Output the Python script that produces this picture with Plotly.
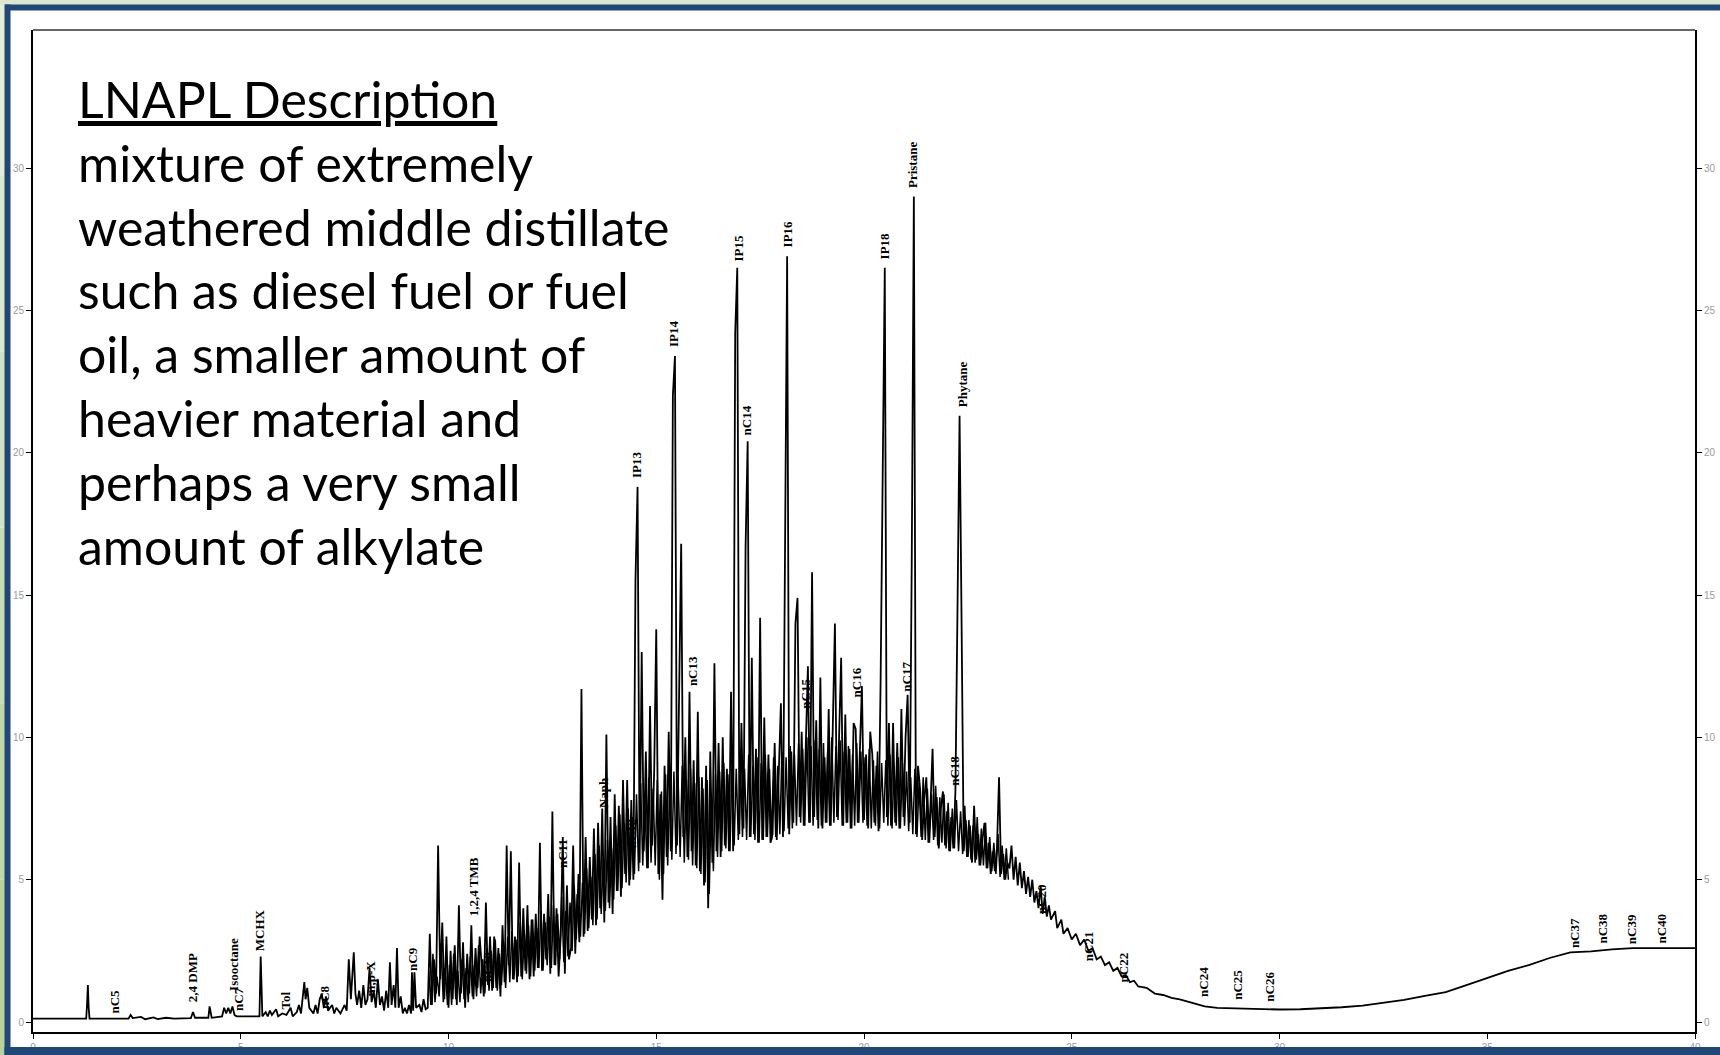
import plotly.graph_objects as go

# ---------------- data ----------------
# early part: retention time (min) and detector response
rt_early = [0.00, 1.28, 1.30, 1.32, 1.34, 1.36, 2.30, 2.35, 2.40, 2.60, 2.70, 2.90, 3.00, 3.20, 3.40,
            3.80, 3.85, 3.90, 4.22, 4.25, 4.30, 4.55, 4.60, 4.65, 4.70, 4.75, 4.80, 4.85, 4.90,
            5.30, 5.45, 5.48, 5.52, 5.60, 5.65, 5.70, 5.75, 5.85, 5.90, 6.00, 6.10, 6.20, 6.25,
            6.35, 6.40, 6.45, 6.50, 6.53, 6.56, 6.60, 6.65, 6.75, 6.80, 6.85, 6.90, 6.95, 7.00,
            7.05, 7.10, 7.20, 7.25, 7.30, 7.40, 7.50, 7.55, 7.60, 7.65, 7.72, 7.76, 7.80, 7.85,
            7.90, 7.95, 8.00, 8.05, 8.10, 8.15, 8.20, 8.25, 8.30, 8.35, 8.40, 8.45, 8.50, 8.55,
            8.59, 8.63, 8.68, 8.72, 8.76, 8.80, 8.85, 8.90, 8.95, 9.00, 9.05, 9.10, 9.12, 9.15,
            9.18, 9.22, 9.30, 9.35, 9.40, 9.45]
sig_early = [0.12, 0.12, 0.6, 1.3, 0.5, 0.12, 0.12, 0.25, 0.14, 0.18, 0.10, 0.16, 0.10, 0.15, 0.12,
             0.14, 0.35, 0.15, 0.15, 0.55, 0.15, 0.20, 0.50, 0.30, 0.50, 0.30, 0.55, 0.25, 0.20,
             0.20, 0.20, 2.30, 0.20, 0.35, 0.20, 0.40, 0.25, 0.45, 0.20, 0.30, 0.25, 0.50, 0.20,
             0.35, 0.60, 0.30, 1.00, 1.40, 0.80, 1.20, 0.50, 0.30, 0.60, 0.30, 0.80, 1.00, 0.50,
             0.90, 0.40, 0.60, 0.30, 0.50, 0.30, 0.60, 0.40, 2.20, 0.80, 2.45, 1.00, 0.60, 1.10,
             0.50, 1.30, 0.60, 0.80, 1.90, 0.70, 1.10, 0.50, 1.50, 0.60, 0.90, 0.40, 1.10, 0.50,
             2.10, 0.60, 1.30, 0.50, 2.60, 0.50, 0.90, 0.30, 0.50, 0.30, 0.60, 0.30, 1.75, 0.40,
             1.75, 0.50, 0.60, 0.35, 0.80, 0.45]

# unresolved hump: sampled every 0.05 min from 9.50 to 23.50 min
hump_start = 9.50
hump_step = 0.05
sig_hump = [
    0.5, 3.1, 0.6, 2.2, 1.0, 6.2, 1.5, 3.5, 0.8, 3.0,
    0.5, 2.5, 0.8, 2.7, 0.6, 4.1, 1.0, 2.8, 0.5, 2.4,
    1.0, 3.4, 0.8, 2.6, 1.2, 3.0, 2.0, 0.9, 4.2, 1.3,
    3.0, 1.1, 3.0, 1.2, 2.6, 0.9, 3.4, 1.4, 6.2, 2.0,
    6.0, 1.5, 3.0, 1.4, 5.6, 1.6, 4.0, 1.8, 4.1, 1.5,
    3.6, 1.6, 3.8, 1.9, 6.3, 1.8, 3.8, 2.2, 4.5, 1.7,
    7.4, 2.0, 4.0, 1.6, 3.0, 6.5, 1.7, 4.8, 2.2, 2.6,
    6.2, 2.4, 4.5, 2.8, 11.7, 3.0, 6.5, 3.2, 5.8, 3.6,
    6.8, 3.4, 7.0, 4.0, 7.5, 3.5, 10.1, 4.2, 7.2, 3.8,
    8.0, 4.6, 7.6, 4.4, 8.5, 5.2, 8.5, 4.8, 7.8, 5.0,
    15.5, 18.8, 5.6, 13.0, 6.0, 9.5, 5.4, 11.1, 6.2, 8.8,
    13.8, 5.2, 8.0, 4.3, 9.0, 5.8, 10.2, 6.0, 22.0, 23.4,
    6.2, 11.0, 16.8, 6.5, 10.0, 5.8, 11.6, 6.0, 9.2, 5.5,
    10.9, 5.3, 8.6, 4.8, 9.0, 4.0, 9.5, 5.6, 12.6, 6.0,
    9.8, 5.8, 10.0, 6.2, 8.9, 6.0, 11.6, 6.0, 24.2, 26.5,
    6.6, 10.5, 6.8, 16.7, 20.4, 6.5, 12.8, 6.6, 9.6, 6.3,
    14.2, 6.4, 10.7, 6.5, 9.4, 6.3, 6.6, 9.8, 6.4, 8.8,
    11.2, 6.5, 18.8, 26.9, 6.6, 9.5, 7.0, 14.0, 14.9, 7.2,
    10.2, 6.9, 9.8, 12.5, 7.0, 15.8, 7.2, 10.6, 6.8, 12.1,
    6.8, 9.3, 7.0, 11.0, 6.9, 10.4, 14.0, 7.2, 10.0, 12.8,
    6.9, 10.8, 7.0, 9.6, 6.8, 10.5, 10.3, 7.0, 9.5, 11.8,
    7.1, 9.4, 6.8, 10.2, 9.4, 7.0, 9.0, 6.7, 12.0, 19.5,
    26.5, 7.2, 10.5, 6.9, 10.5, 7.0, 9.8, 6.8, 11.0, 7.2,
    10.0, 11.5, 7.0, 16.4, 29.0, 6.6, 9.0, 8.2, 6.4, 7.8,
    8.6, 6.3, 7.6, 9.6, 6.5, 7.9, 6.1, 7.5, 8.1, 6.2,
    7.4, 6.0, 7.2, 6.1, 8.1, 14.5, 21.3, 13.8, 6.0, 7.1,
    5.8, 6.9, 5.6, 7.6, 5.7, 6.6, 5.5, 6.4, 7.0, 5.4,
    6.3, 5.2, 6.0, 5.3, 6.1, 8.6, 5.2, 5.9, 5.0, 5.6,
    5.4]

# minor unresolved peaks lying between the samples above (every 0.05 min from 9.525 min)
fine_start = 9.525
fine_step = 0.05
sig_fine = [
    1.8, 0.6, 2.4, 0.7, 1.6, 0.9, 2.6, 0.7, 1.9, 0.6,
    2.0, 0.6, 2.4, 0.8, 1.8, 0.7, 2.2, 0.8, 1.9, 0.7,
    2.3, 0.9, 2.0, 0.9, 2.7, 1.0, 2.2, 1.0, 2.6, 1.1,
    2.5, 1.2, 2.9, 1.1, 2.4, 1.3, 2.8, 1.2, 3.0, 1.4,
    3.2, 1.5, 2.9, 1.6, 3.5, 1.5, 3.1, 1.7, 3.4, 1.6,
    3.6, 1.8, 3.3, 1.9, 3.9, 1.8, 3.5, 2.0, 3.7, 1.9,
    4.1, 2.0, 3.8, 2.2, 4.4, 2.1, 3.9, 2.3, 4.2, 2.5,
    4.8, 2.9, 5.2, 3.0, 4.9, 3.1, 5.4, 3.3, 5.1, 3.4,
    5.9, 3.6, 6.2, 3.8, 5.8, 3.9, 6.4, 4.0, 6.1, 4.3,
    6.9, 4.6, 7.3, 4.7, 7.0, 4.9, 7.5, 5.0, 7.2, 5.2,
    8.0, 5.3, 8.4, 5.5, 7.9, 5.4, 8.6, 5.6, 8.2, 5.5,
    8.5, 5.0, 8.1, 5.2, 8.7, 5.5, 8.3, 5.7, 8.8, 5.9,
    8.6, 5.8, 9.0, 5.6, 8.5, 5.7, 8.9, 5.5, 8.4, 5.4,
    8.6, 5.2, 8.2, 4.9, 8.5, 4.5, 8.0, 5.3, 8.7, 5.8,
    8.8, 6.0, 9.1, 6.1, 8.7, 6.0, 9.2, 6.2, 8.9, 6.4,
    9.2, 6.5, 8.9, 6.4, 9.4, 6.5, 9.0, 6.4, 9.3, 6.3,
    9.1, 6.4, 9.4, 6.5, 8.9, 6.4, 9.3, 6.5, 9.0, 6.6,
    9.5, 6.7, 9.3, 6.8, 9.7, 6.8, 9.4, 6.9, 9.8, 7.0,
    9.6, 6.9, 10.0, 7.0, 9.7, 6.9, 9.9, 7.1, 9.6, 6.9,
    9.8, 7.0, 9.5, 6.9, 10.0, 7.0, 9.7, 7.1, 9.9, 6.9,
    9.5, 7.0, 9.7, 6.8, 9.4, 6.9, 9.8, 7.0, 9.5, 7.0,
    9.3, 6.9, 9.6, 6.8, 9.2, 6.9, 9.5, 6.8, 9.1, 7.0,
    9.2, 6.9, 9.4, 6.8, 9.0, 6.9, 9.3, 6.8, 9.1, 6.9,
    8.8, 6.7, 8.6, 6.6, 8.9, 6.5, 8.4, 6.5, 8.6, 6.4,
    8.2, 6.3, 8.0, 6.4, 8.3, 6.2, 7.9, 6.3, 8.0, 6.1,
    7.7, 6.0, 7.5, 6.1, 7.8, 6.0, 7.4, 5.9, 7.6, 5.8,
    7.1, 5.7, 6.9, 5.6, 7.2, 5.5, 6.8, 5.5, 7.0, 5.4,
    6.5, 5.3, 6.3, 5.2, 6.6, 5.1, 6.2, 5.0, 6.1, 5.0]

# late part: decaying hump and heavy-end rise
rt_late = [23.55, 23.60, 23.65, 23.70, 23.75, 23.80, 23.85, 23.90, 23.95, 24.00, 24.05, 24.10,
           24.15, 24.20, 24.25, 24.30, 24.35, 24.40, 24.45, 24.50, 24.60, 24.65, 24.75, 24.80,
           24.90, 25.00, 25.10, 25.20, 25.30, 25.40, 25.50, 25.60, 25.70, 25.80, 25.90, 26.00,
           26.10, 26.20, 26.30, 26.40, 26.50, 26.60, 26.80, 27.00, 27.20, 27.40, 27.60, 27.80,
           28.00, 28.20, 28.50, 29.00, 29.50, 30.00, 30.50, 31.00, 31.50, 32.00, 32.50, 33.00,
           33.50, 34.00, 34.50, 35.00, 35.50, 36.00, 36.50, 37.00, 37.50, 38.00, 38.50, 39.00, 40.00]
sig_late = [6.2, 5.0, 5.8, 4.8, 5.6, 4.7, 5.3, 4.5, 5.1, 4.4, 5.0, 4.2,
            4.6, 4.0, 4.8, 3.8, 4.4, 3.7, 4.1, 3.6, 3.9, 3.3, 3.6, 3.1,
            3.3, 2.9, 3.1, 2.7, 2.9, 2.5, 2.6, 2.2, 2.3, 2.0, 2.1, 1.8,
            1.9, 1.6, 1.65, 1.4, 1.45, 1.25, 1.2, 1.0, 0.95, 0.85, 0.8, 0.72,
            0.65, 0.55, 0.5, 0.48, 0.45, 0.44, 0.45, 0.48, 0.52, 0.58, 0.68, 0.78,
            0.92, 1.05, 1.3, 1.55, 1.8, 2.0, 2.25, 2.45, 2.48, 2.55, 2.6, 2.6, 2.6]

# peak identifications: name, retention time, height of label foot
peak_names = ["nC5", "2,4 DMP", "Isooctane", "nC7", "MCHX", "Tol", "nC8", "m,p-X", "nC9",
              "1,2,4 TMB", "nC10", "nC11", "Naph", "nC12", "IP13", "IP14", "nC13", "IP15",
              "nC14", "IP16", "nC15", "nC16", "IP18", "nC17", "Pristane", "Phytane", "nC18",
              "nC20", "nC21", "nC22", "nC24", "nC25", "nC26", "nC37", "nC38", "nC39", "nC40"]
peak_rt = [1.95, 3.84, 4.83, 4.95, 5.47, 6.07, 7.00, 8.11, 9.15,
           10.59, 10.92, 12.76, 13.72, 14.39, 14.54, 15.43, 15.86, 16.97,
           17.18, 18.15, 18.60, 19.83, 20.50, 21.03, 21.18, 22.36, 22.19,
           24.29, 25.40, 26.24, 28.17, 28.97, 29.76, 37.09, 37.78, 38.47, 39.20]
peak_label_y = [0.3, 0.7, 1.1, 0.38, 2.5, 0.45, 0.45, 0.9, 1.8,
                3.7, 1.4, 5.4, 7.5, 6.1, 19.1, 23.7, 11.8, 26.7,
                20.6, 27.2, 11.0, 11.4, 26.8, 11.6, 29.3, 21.6, 8.3,
                3.8, 2.15, 1.4, 0.9, 0.77, 0.7, 2.6, 2.75, 2.75, 2.75]

x_ticks = [0, 5, 10, 15, 20, 25, 30, 35, 40]
y_ticks = [0, 5, 10, 15, 20, 25, 30]

description_title = "LNAPL Description"
description_lines = ["mixture of extremely", "weathered middle distillate",
                     "such as diesel fuel or fuel", "oil, a smaller amount of",
                     "heavier material and", "perhaps a very small", "amount of alkylate"]

# ---------------- build ----------------
rt_hump = [round(hump_start + hump_step * i, 4) for i in range(len(sig_hump))]
rt_fine = [round(fine_start + fine_step * i, 4) for i in range(len(sig_fine))]
rt = rt_early + rt_hump + rt_late
sig = sig_early + sig_hump + sig_late

W, H = 1720, 1055
L, R, T, B = 33, 1695, 30, 1032
YR = [-0.35, 34.85]


def px(xpix):
    return (xpix - L) / (R - L)


def py(ypix):
    return (B - ypix) / (B - T)


fig = go.Figure()
fig.add_trace(go.Scatter(x=rt_fine, y=sig_fine, mode="lines",
                         line=dict(color="black", width=1.5),
                         hoverinfo="skip", showlegend=False))
fig.add_trace(go.Scatter(x=rt, y=sig, mode="lines",
                         line=dict(color="black", width=1.8),
                         hoverinfo="skip", showlegend=False))
fig.add_trace(go.Scatter(x=rt, y=sig, mode="lines", yaxis="y2", opacity=0,
                         line=dict(color="black", width=0.1),
                         hoverinfo="skip", showlegend=False))

annotations = []
for name, x, y in zip(peak_names, peak_rt, peak_label_y):
    annotations.append(dict(x=x, y=y, xref="x", yref="y", text=name, showarrow=False,
                            textangle=-90, xanchor="center", yanchor="bottom",
                            borderpad=0, borderwidth=0,
                            font=dict(family="Liberation Serif", size=13, color="black",
                                      weight="bold")))

FS = 50
base0 = 118.4
step = 63.8
all_lines = ["<u>" + description_title + "</u>"] + description_lines
for k, line in enumerate(all_lines):
    baseline = base0 + step * k
    annotations.append(dict(x=px(78), y=py(baseline - 0.387 * FS), xref="paper", yref="paper",
                            text=line, showarrow=False, xanchor="left", yanchor="middle",
                            align="left", borderpad=0, borderwidth=0,
                            font=dict(family="Lato", size=FS, color="black")))

shapes = []
greens = ["#e3edd8", "#dbe8cc", "#d2e2c0", "#c9ddb3", "#c0d8a6", "#b8d39a"]
seg = H / len(greens)
for k, c in enumerate(greens):
    shapes.append(dict(type="rect", xref="paper", yref="paper", layer="above",
                       x0=px(0), x1=px(5), y0=py(k * seg), y1=py((k + 1) * seg),
                       line=dict(width=0), fillcolor=c))
shapes.append(dict(type="rect", xref="paper", yref="paper", layer="above",
                   x0=px(0), x1=px(W), y0=py(0), y1=py(5), line=dict(width=0), fillcolor="#dce8cd"))
navy = "#1f4878"
shapes.append(dict(type="rect", xref="paper", yref="paper", layer="above",
                   x0=px(5), x1=px(W), y0=py(4.5), y1=py(10.5), line=dict(width=0), fillcolor=navy))
shapes.append(dict(type="rect", xref="paper", yref="paper", layer="above",
                   x0=px(4.5), x1=px(10.5), y0=py(4.5), y1=py(H), line=dict(width=0), fillcolor=navy))
shapes.append(dict(type="rect", xref="paper", yref="paper", layer="above",
                   x0=px(4.5), x1=px(W), y0=py(1047), y1=py(H), line=dict(width=0), fillcolor=navy))
shapes.append(dict(type="line", xref="paper", yref="paper", layer="above",
                   x0=0, x1=1, y0=1, y1=1, line=dict(color="#333333", width=1.5)))

tickfont = dict(family="Liberation Sans", size=10, color="#9a9a9a")
axis_common = dict(showgrid=False, zeroline=False, showline=True, linecolor="black", linewidth=2,
                   ticks="outside", ticklen=5, tickwidth=1, tickcolor="black", tickfont=tickfont,
                   automargin=False)
fig.update_layout(
    width=W, height=H,
    margin=dict(l=L, r=W - R, t=T, b=H - B, pad=0, autoexpand=False),
    paper_bgcolor="white", plot_bgcolor="white",
    showlegend=False,
    xaxis=dict(range=[0, 40], tickvals=x_ticks, ticktext=[str(v) for v in x_ticks], **axis_common),
    yaxis=dict(range=YR, tickvals=y_ticks, ticktext=[str(v) for v in y_ticks], **axis_common),
    yaxis2=dict(range=YR, overlaying="y", side="right", anchor="x",
                tickvals=y_ticks, ticktext=[str(v) for v in y_ticks], **axis_common),
    annotations=annotations,
    shapes=shapes,
)

fig.write_html("out.html")
